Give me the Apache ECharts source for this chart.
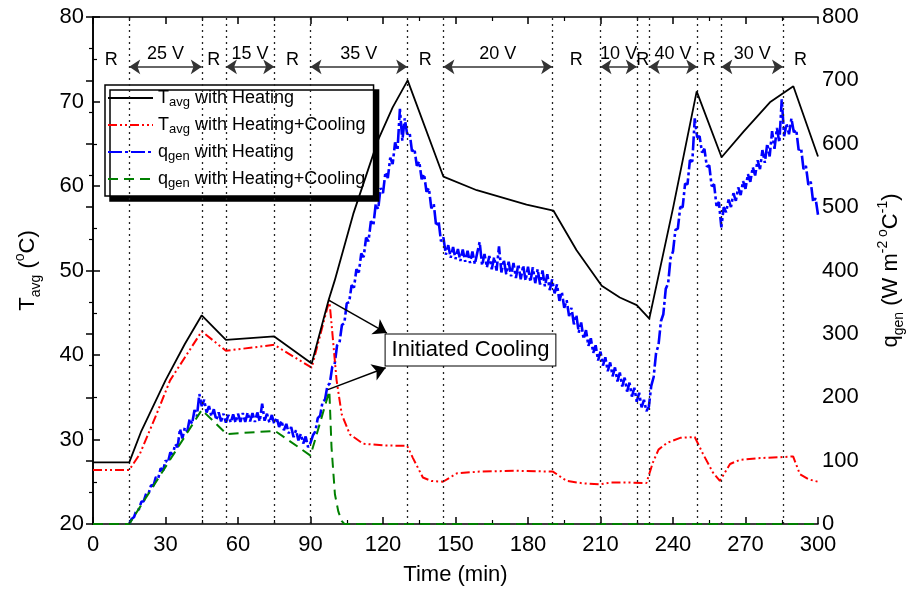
<!DOCTYPE html>
<html>
<head>
<meta charset="utf-8">
<script src="https://cdn.jsdelivr.net/npm/echarts@6/dist/echarts.min.js"></script>
<style>
html,body{margin:0;padding:0;background:#fff;}
#chart{width:914px;height:592px;}
</style>
</head>
<body>
<div id="chart"></div>
<script>
// ---------- DATA ----------
// Black: T_avg with Heating (deg C)
const blackTime = [0,15,20,26,30,38,45,55,75,90.5,97.5,100,107.7,117.9,124,130.2,145,158.8,179.4,190.5,200.1,210.5,218,225,230.2,240.1,249.8,260.1,269.1,280.1,289.8,300];
const blackTemp = [27.3,27.3,31,34.6,37,41.3,44.7,41.8,42.2,39.0,46.5,48.8,56.7,65.4,69.3,72.5,61.1,59.5,57.8,57.1,52.4,48.2,46.8,45.9,44.3,57.5,71.2,63.4,66.4,69.9,71.8,63.5];

// Red: T_avg with Heating+Cooling (deg C)
const redTime = [0,15,19.4,26.3,31.9,38,45,55,75,90.5,97.8,98.7,100.8,102.9,106.3,111.8,120,130,132.4,136.5,140,144.8,150.6,160,175,190.3,196,203,209.8,214,222,229,231.7,234,237.5,243,249,252.4,256.5,259.4,263.6,267.7,276,284.3,289.7,292.5,296,300];
const redTemp = [26.4,26.4,28.3,33.0,37.0,39.7,42.8,40.5,41.2,38.5,46.5,43.7,37.0,33.0,30.6,29.5,29.3,29.25,27.8,25.5,25.1,25.0,26.0,26.2,26.3,26.2,25.1,24.8,24.7,24.9,24.9,24.85,27.3,28.8,29.6,30.2,30.3,28.3,26.1,25.1,27.1,27.6,27.8,27.9,28.0,25.9,25.3,25.0];

// Blue: q_gen with Heating, one reading per minute from t = 15 min
const blueStartTime = 15;
const blueQ = [
 0,8,11,22,23,35,36,48,48,61,60,74,72,88,84,100,97,113,109,126,121,150,135,152,146,166,158,180,170,205,186,
 196,176,186,170,181,164,176,162,174,160,172,160,173,160,174,161,175,161,176,162,175,161,176,162,190,163,174,160,172,158,
 168,153,163,148,158,143,153,137,148,132,142,127,138,121,128,
 140,146,167,171,193,196,218,222,248,252,282,286,314,317,348,350,377,373,402,397,427,421,452,446,478,471,505,497,530,522,555,546,578,568,602,590,655,605,640,615,
 618,588,592,565,572,544,552,524,530,498,505,470,478,446,452,425,440,420,437,418,
 434,415,433,414,431,412,430,410,428,445,408,426,405,423,402,421,400,438,397,417,394,414,391,412,388,410,386,408,384,406,382,405,380,402,378,400,375,394,369,386,
 364,378,352,366,341,353,328,341,315,330,302,318,292,306,281,293,270,282,258,272,250,263,241,255,233,247,225,239,217,231,209,223,201,215,193,207,184,196,178,185,
 218,232,270,282,320,331,371,380,420,430,464,466,500,500,537,536,574,572,640,610,
 612,586,592,564,566,533,536,502,508,468,500,
 492,512,500,522,510,531,519,541,529,552,540,563,550,574,560,590,570,600,580,620,592,625,602,670,612,632,615,640,618,622,590,593,560,565,535,540,508,514,488
];

// Green: q_gen with Heating+Cooling
const greenTime = [0,15,45,55.3,75.3,90,97.8,98.7,100.1,101.5,102.9,104,300];
const greenQ = [0,0,180,142,147,108,210,121,47,20,5,0,0];

// Test phases (min)
const phaseBounds = [15,45,55,75,90,130,145,190,210,225,230,250,260,285.5];
const voltLabels = ['25 V','15 V','35 V','20 V','10 V','40 V','30 V'];
const voltStart = [15,55,90,145,210,230,260];
const voltEnd = [45,75,130,190,225,250,285.5];
const restCenters = [7.5,50,82.5,137.5,200,227.5,255,292.75];

const seriesNames = ['Tavg with Heating','Tavg with Heating+Cooling','qgen with Heating','qgen with Heating+Cooling'];
const legendRich = {
  'Tavg with Heating': '{t|T}{s|avg}{t| with Heating}',
  'Tavg with Heating+Cooling': '{t|T}{s|avg}{t| with Heating+Cooling}',
  'qgen with Heating': '{t|q}{s|gen}{t| with Heating}',
  'qgen with Heating+Cooling': '{t|q}{s|gen}{t| with Heating+Cooling}'
};

// ---------- BUILD ----------
const FONT = '"Liberation Sans", Arial, sans-serif';
const pairs = (xs, ys) => xs.map((x, i) => [x, ys[i]]);
const bluePairs = blueQ.map((q, i) => [blueStartTime + i, q]);

const axisCommon = {
  axisLine: {show: true, lineStyle: {color: '#000', width: 1.6}},
  axisTick: {show: true, inside: true, length: 7, lineStyle: {color: '#000', width: 1.5}},
  minorTick: {show: true, splitNumber: 2, length: 4, lineStyle: {color: '#000', width: 1.2}},
  splitLine: {show: false},
  axisLabel: {color: '#000', fontSize: 22, fontFamily: FONT}
};

const R_T = 74.9, ARROW_T = 74.1;

const option = {
  animation: false,
  backgroundColor: '#fff',
  grid: {left: 93, right: 94, top: 17, bottom: 68},
  legend: {
    data: seriesNames,
    orient: 'vertical',
    left: 105, top: 85,
    itemWidth: 45, itemHeight: 14, itemGap: 7,
    padding: [4, 8, 6, 2],
    backgroundColor: '#fff',
    borderColor: '#000', borderWidth: 1.5,
    shadowColor: '#000', shadowOffsetX: 5, shadowOffsetY: 5, shadowBlur: 0,
    itemStyle: {opacity: 0},
    formatter: n => legendRich[n],
    textStyle: {
      fontFamily: FONT, color: '#000', fontSize: 18,
      rich: {
        t: {fontFamily: FONT, fontSize: 18, color: '#000', lineHeight: 22},
        s: {fontFamily: FONT, fontSize: 13, color: '#000', lineHeight: 22, verticalAlign: 'bottom'}
      }
    }
  },
  xAxis: [
    Object.assign({}, axisCommon, {
      type: 'value', min: 0, max: 300, interval: 30, position: 'bottom',
      axisLabel: Object.assign({}, axisCommon.axisLabel, {margin: 10}),
      name: 'Time (min)', nameLocation: 'middle', nameGap: 40,
      nameTextStyle: {fontFamily: FONT, fontSize: 22, color: '#000'}
    }),
    Object.assign({}, axisCommon, {
      type: 'value', min: 0, max: 300, interval: 30, position: 'top',
      axisLabel: {show: false}
    })
  ],
  yAxis: [
    Object.assign({}, axisCommon, {
      type: 'value', min: 20, max: 80, interval: 10, position: 'left',
      axisLabel: Object.assign({}, axisCommon.axisLabel, {margin: 9}),
      name: '{t|T}{s|avg}{t| (}{p|o}{t|C)}', nameLocation: 'middle', nameRotate: 90, nameGap: 50,
      nameTextStyle: {
        rich: {
          t: {fontFamily: FONT, fontSize: 22, color: '#000', lineHeight: 30},
          s: {fontFamily: FONT, fontSize: 14, color: '#000', lineHeight: 30, verticalAlign: 'bottom'},
          p: {fontFamily: FONT, fontSize: 14, color: '#000', lineHeight: 30, verticalAlign: 'top'}
        }
      }
    }),
    Object.assign({}, axisCommon, {
      type: 'value', min: 0, max: 800, interval: 100, position: 'right',
      axisLabel: Object.assign({}, axisCommon.axisLabel, {margin: 4}),
      name: '{t|q}{s|gen}{t| (W m}{p|-2 o}{t|C}{p|-1}{t|)}', nameLocation: 'middle', nameRotate: 90, nameGap: 58,
      nameTextStyle: {
        rich: {
          t: {fontFamily: FONT, fontSize: 22, color: '#000', lineHeight: 30},
          s: {fontFamily: FONT, fontSize: 14, color: '#000', lineHeight: 30, verticalAlign: 'bottom'},
          p: {fontFamily: FONT, fontSize: 14, color: '#000', lineHeight: 30, verticalAlign: 'top'}
        }
      }
    })
  ],
  series: [
    {
      name: seriesNames[2], type: 'line', yAxisIndex: 1, data: bluePairs,
      symbol: 'none', showSymbol: false, color: '#0000ff',
      lineStyle: {color: '#0000ff', width: 2.6, type: [14, 3, 3, 3]}, z: 3
    },
    {
      name: seriesNames[3], type: 'line', yAxisIndex: 1, data: pairs(greenTime, greenQ),
      symbol: 'none', showSymbol: false, color: '#008000',
      lineStyle: {color: '#008000', width: 2, type: [10, 6]}, z: 3
    },
    {
      name: seriesNames[1], type: 'line', yAxisIndex: 0, data: pairs(redTime, redTemp),
      symbol: 'none', showSymbol: false, color: '#ff0000',
      lineStyle: {color: '#ff0000', width: 2, type: [9, 3, 2, 3, 2, 3]}, z: 4
    },
    {
      name: seriesNames[0], type: 'line', yAxisIndex: 0, data: pairs(blackTime, blackTemp),
      symbol: 'none', showSymbol: false, color: '#000',
      lineStyle: {color: '#000', width: 1.8}, z: 5
    },
    // annotations: phase boundaries
    {
      name: 'phases', type: 'line', yAxisIndex: 0, data: [], silent: true, z: 2,
      markLine: {
        silent: true, symbol: 'none', animation: false,
        label: {show: false},
        lineStyle: {color: '#222', width: 1.3, type: [2, 4]},
        data: phaseBounds.map(x => ({xAxis: x}))
      }
    },
    // voltage arrows + labels
    {
      name: 'volts', type: 'line', yAxisIndex: 0, data: [], silent: true, z: 6,
      markLine: {
        silent: true, animation: false,
        symbol: ['arrow', 'arrow'], symbolSize: 11,
        lineStyle: {color: '#333', width: 1.5, type: 'solid'},
        label: {show: true, position: 'middle', formatter: '{b}', distance: 4,
                fontFamily: FONT, fontSize: 18, color: '#000'},
        data: voltLabels.map((v, i) => [
          {name: v, coord: [voltStart[i], ARROW_T]},
          {coord: [voltEnd[i], ARROW_T]}
        ])
      },
      markPoint: {
        silent: true, animation: false,
        symbol: 'circle', symbolSize: 0,
        label: {show: true, position: 'inside', formatter: 'R',
                fontFamily: FONT, fontSize: 18, color: '#000'},
        data: restCenters.map(t => ({coord: [t, R_T]}))
      }
    },
    // "Initiated Cooling" callout
    {
      name: 'callout', type: 'line', yAxisIndex: 0, data: [], silent: true, z: 7,
      markLine: {
        silent: true, animation: false,
        symbol: ['none', 'arrow'], symbolSize: 13,
        lineStyle: {color: '#000', width: 1.5, type: 'solid'},
        label: {show: false},
        data: [
          [{coord: [97.5, 46.5]}, {coord: [121.6, 42.6]}],
          [{coord: [97.2, 35.9]}, {coord: [121.1, 38.5]}]
        ]
      },
      markPoint: {
        silent: true, animation: false,
        symbol: 'circle', symbolSize: 0,
        label: {show: true, position: 'inside', formatter: 'Initiated Cooling',
                fontFamily: FONT, fontSize: 22, color: '#000',
                backgroundColor: '#fff', borderColor: '#000', borderWidth: 1,
                padding: [5, 6, 4, 6]},
        data: [{coord: [156.2, 40.6]}]
      }
    }
  ]
};

const chart = echarts.init(document.getElementById('chart'), null, {renderer: 'canvas'});
chart.setOption(option);
</script>
</body>
</html>
